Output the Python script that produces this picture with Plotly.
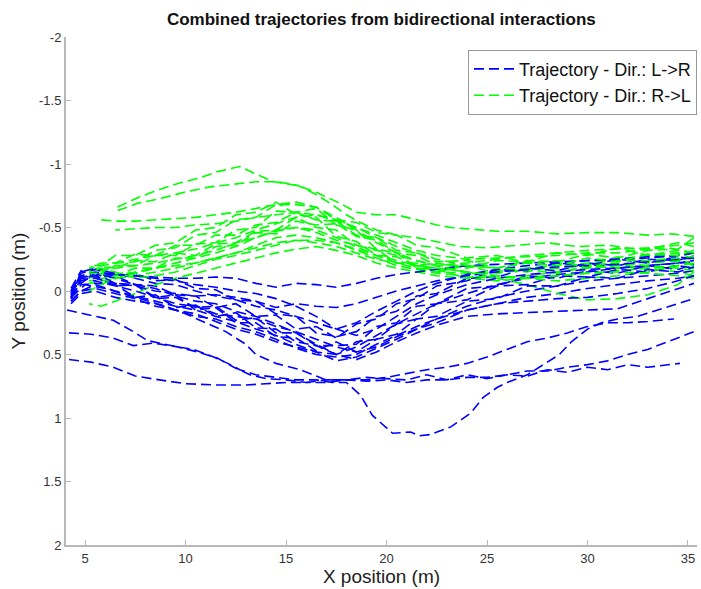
import plotly.graph_objects as go

# ---------------- data ----------------
# Shared x grid for the blue (L->R) bundle trajectories
XB = [4.3, 4.8, 5.5, 6.5, 7.5, 8.5, 9.5, 10.5, 11.5, 12.5, 13.5, 14.5, 15.5, 16.5, 17.5,
      18.5, 19.5, 20.5, 21.5, 22.5, 24, 25.5, 27, 28.5, 30, 31.5, 33, 34.5, 35.3]

B01 = [0.05, -0.15, -0.18, -0.13, -0.14, -0.08, -0.09, -0.02, -0.01, 0.07, 0.08, 0.18, 0.2, 0.33, 0.36, 0.32, 0.2, 0.16, 0.04, 0.02, -0.1, -0.11, -0.18, -0.16, -0.22, -0.2, -0.25, -0.24, -0.28]
B02 = [0.02, -0.1, -0.14, -0.1, -0.05, -0.02, 0.04, 0.08, 0.1, 0.16, 0.2, 0.26, 0.33, 0.42, 0.5, 0.44, 0.35, 0.26, 0.18, 0.1, 0.02, -0.05, -0.1, -0.13, -0.15, -0.18, -0.2, -0.22, -0.24]
B03 = [-0.02, -0.16, -0.11, -0.12, -0.05, -0.04, 0.03, 0.04, 0.13, 0.1, 0.2, 0.19, 0.3, 0.28, 0.37, 0.26, 0.22, 0.1, 0.06, -0.04, -0.08, -0.17, -0.16, -0.22, -0.2, -0.25, -0.22, -0.27, -0.25]
B04 = [0.08, 0.0, -0.05, 0.0, 0.04, 0.08, 0.12, 0.15, 0.2, 0.24, 0.3, 0.35, 0.42, 0.48, 0.55, 0.52, 0.45, 0.38, 0.3, 0.22, 0.12, 0.05, 0.0, -0.04, -0.08, -0.1, -0.12, -0.14, -0.16]
B05 = [0.05, -0.08, -0.12, -0.04, -0.05, 0.06, 0.05, 0.13, 0.12, 0.23, 0.21, 0.33, 0.33, 0.43, 0.43, 0.42, 0.28, 0.25, 0.12, 0.1, -0.02, -0.04, -0.12, -0.1, -0.16, -0.14, -0.2, -0.17, -0.21]
B06 = [0.1, 0.02, 0.0, 0.05, 0.08, 0.1, 0.15, 0.2, 0.22, 0.28, 0.32, 0.38, 0.45, 0.5, 0.52, 0.5, 0.42, 0.35, 0.28, 0.22, 0.15, 0.1, 0.05, 0.02, -0.02, -0.05, -0.08, -0.1, -0.12]
B07 = [0.0, -0.14, -0.17, -0.14, -0.1, -0.06, -0.05, 0.0, 0.04, 0.07, 0.12, 0.15, 0.2, 0.25, 0.3, 0.25, 0.16, 0.08, 0.0, -0.06, -0.13, -0.17, -0.2, -0.22, -0.24, -0.25, -0.27, -0.28, -0.3]
B08 = [0.06, -0.05, -0.06, -0.05, 0.05, 0.03, 0.13, 0.11, 0.2, 0.17, 0.29, 0.3, 0.4, 0.43, 0.5, 0.4, 0.38, 0.26, 0.22, 0.1, 0.07, -0.04, -0.05, -0.12, -0.11, -0.17, -0.15, -0.2, -0.18]
B09 = [0.03, -0.12, -0.15, -0.13, -0.12, -0.1, -0.08, -0.05, -0.03, 0.0, 0.02, 0.06, 0.12, 0.2, 0.3, 0.35, 0.3, 0.2, 0.1, 0.03, -0.05, -0.1, -0.13, -0.15, -0.17, -0.18, -0.2, -0.22, -0.23]
B10 = [0.06, -0.1, -0.12, -0.13, -0.12, -0.11, -0.1, -0.1, -0.11, -0.1, -0.06, -0.03, -0.06, -0.05, -0.03, -0.06, -0.1, -0.13, -0.15, -0.17, -0.2, -0.21, -0.22, -0.23, -0.24, -0.25, -0.26, -0.28, -0.3]
B11 = [0.0, -0.12, -0.1, -0.06, -0.04, 0.0, 0.02, 0.04, 0.03, 0.05, 0.08, 0.13, 0.1, 0.12, 0.13, 0.1, 0.05, 0.0, -0.04, -0.08, -0.12, -0.15, -0.17, -0.19, -0.2, -0.21, -0.23, -0.25, -0.26]
B12 = [0.04, -0.06, -0.14, -0.06, -0.05, 0.05, 0.03, 0.15, 0.13, 0.25, 0.25, 0.36, 0.37, 0.47, 0.4, 0.48, 0.38, 0.34, 0.22, 0.2, 0.08, 0.06, -0.04, -0.04, -0.11, -0.1, -0.17, -0.15, -0.19]
B13 = [0.08, 0.0, -0.02, 0.02, 0.06, 0.12, 0.15, 0.18, 0.24, 0.3, 0.34, 0.4, 0.44, 0.48, 0.5, 0.54, 0.48, 0.4, 0.33, 0.27, 0.2, 0.18, 0.17, 0.16, 0.15, 0.14, 0.06, -0.02, -0.06]
B14 = [0.02, -0.1, -0.08, -0.04, 0.0, 0.05, 0.1, 0.12, 0.18, 0.2, 0.22, 0.28, 0.32, 0.38, 0.44, 0.48, 0.44, 0.36, 0.3, 0.25, 0.15, 0.1, 0.08, 0.06, 0.05, 0.02, -0.02, -0.08, -0.12]

# Individual blue trajectories (lower ones)
L1_X = [4.2, 5.3, 6.4, 7.5, 8.7, 10, 11.5, 13, 14, 15, 16, 17, 18, 19, 20, 21, 22, 23, 24, 25, 26, 27, 28, 29, 30, 31, 32, 33, 34.6]
L1_Y = [0.54, 0.56, 0.6, 0.67, 0.7, 0.73, 0.74, 0.74, 0.73, 0.72, 0.72, 0.7, 0.7, 0.68, 0.69, 0.7, 0.66, 0.7, 0.66, 0.69, 0.66, 0.67, 0.62, 0.64, 0.6, 0.62, 0.58, 0.6, 0.57]
L2_X = [4.2, 5.3, 6.4, 7.4, 8.4, 9.6, 10.6, 11.6, 12.4, 13.2, 14, 15, 16, 17, 18, 19, 20, 21, 22, 23, 24, 25, 26, 27, 28, 29, 30, 31, 32, 33, 34.3]
L2_Y = [0.33, 0.34, 0.37, 0.43, 0.41, 0.44, 0.48, 0.53, 0.6, 0.66, 0.69, 0.7, 0.72, 0.72, 0.7, 0.7, 0.68, 0.65, 0.62, 0.6, 0.57, 0.52, 0.46, 0.4, 0.37, 0.33, 0.28, 0.25, 0.25, 0.24, 0.22]
L3_X = [4.1, 5.25, 6.4, 7.4, 8.1, 9.6, 10.4, 11.4, 12.1, 12.7, 13.5, 14.5, 15.5, 16.5, 17.3, 18, 18.7, 19.3, 20.3, 21.2, 21.6, 22.2, 23.2, 24.2, 24.8, 25.5, 26, 27, 28, 28.6, 29.2, 30, 30.7, 31.5, 32.5, 33.5, 34.5, 35.3]
L3_Y = [0.15, 0.19, 0.23, 0.32, 0.39, 0.44, 0.46, 0.52, 0.57, 0.62, 0.66, 0.68, 0.7, 0.7, 0.72, 0.72, 0.82, 0.98, 1.12, 1.11, 1.14, 1.13, 1.07, 0.96, 0.84, 0.76, 0.72, 0.66, 0.56, 0.5, 0.4, 0.3, 0.25, 0.22, 0.2, 0.15, 0.1, 0.06]
L4_X = [4.3, 5.0, 6.0, 7.5, 9, 10, 11, 12, 13, 13.5, 14.5, 15.7, 17, 18, 19, 20, 21, 22, 23, 24, 25, 26, 27, 28, 29, 30, 31, 32, 33, 34, 35.3]
L4_Y = [0.05, -0.05, -0.02, 0.05, 0.12, 0.18, 0.25, 0.32, 0.42, 0.5, 0.57, 0.62, 0.7, 0.7, 0.71, 0.7, 0.72, 0.7, 0.7, 0.68, 0.68, 0.66, 0.63, 0.63, 0.6, 0.58, 0.55, 0.5, 0.46, 0.4, 0.32]

# Shared x grid for the green (R->L) bundle trajectories
XG = [35.3, 34.5, 33, 31.5, 30, 28.5, 27, 25.5, 24, 22.5, 21.5, 20.5, 19.5, 18.5, 17.5,
      16.5, 15.5, 14.5, 13.5, 12.5, 11.5, 10.5, 9.5, 8.5, 7.5, 6.5, 5.8, 5.2]

G01 = [-0.42, -0.33, -0.32, -0.26, -0.29, -0.23, -0.24, -0.18, -0.2, -0.15, -0.22, -0.22, -0.33, -0.36, -0.48, -0.5, -0.58, -0.48, -0.47, -0.38, -0.37, -0.28, -0.3, -0.23, -0.24, -0.18, -0.19, -0.15]
G02 = [-0.3, -0.32, -0.28, -0.25, -0.22, -0.2, -0.18, -0.15, -0.14, -0.15, -0.18, -0.22, -0.28, -0.35, -0.42, -0.48, -0.5, -0.47, -0.42, -0.38, -0.32, -0.28, -0.25, -0.22, -0.2, -0.18, -0.16, -0.14]
G03 = [-0.2, -0.24, -0.22, -0.27, -0.2, -0.22, -0.15, -0.16, -0.1, -0.17, -0.18, -0.3, -0.33, -0.48, -0.52, -0.65, -0.62, -0.63, -0.5, -0.48, -0.38, -0.37, -0.28, -0.28, -0.2, -0.2, -0.13, -0.12]
G04 = [-0.35, -0.38, -0.33, -0.3, -0.3, -0.28, -0.27, -0.26, -0.25, -0.28, -0.32, -0.38, -0.44, -0.5, -0.56, -0.6, -0.58, -0.53, -0.48, -0.42, -0.38, -0.33, -0.3, -0.28, -0.25, -0.22, -0.2, -0.18]
G05 = [-0.12, -0.15, -0.18, -0.2, -0.18, -0.15, -0.12, -0.1, -0.12, -0.14, -0.17, -0.2, -0.26, -0.32, -0.38, -0.42, -0.44, -0.42, -0.36, -0.3, -0.26, -0.22, -0.2, -0.18, -0.15, -0.12, -0.1, -0.08]
G06 = [-0.25, -0.3, -0.28, -0.34, -0.28, -0.3, -0.23, -0.24, -0.18, -0.22, -0.2, -0.27, -0.28, -0.39, -0.43, -0.58, -0.6, -0.7, -0.62, -0.6, -0.5, -0.48, -0.38, -0.36, -0.28, -0.28, -0.2, -0.2]
G07 = [-0.15, -0.05, 0.03, 0.06, 0.07, 0.02, -0.05, -0.1, -0.15, -0.18, -0.2, -0.22, -0.25, -0.3, -0.35, -0.38, -0.4, -0.38, -0.34, -0.3, -0.26, -0.22, -0.18, -0.15, -0.12, -0.1, -0.08, -0.06]
G08 = [-0.18, -0.2, -0.18, -0.16, -0.14, -0.12, -0.1, -0.08, -0.1, -0.12, -0.15, -0.18, -0.22, -0.28, -0.32, -0.35, -0.33, -0.3, -0.26, -0.22, -0.18, -0.14, -0.1, -0.05, 0.02, 0.08, 0.12, 0.1]
G09 = [-0.28, -0.23, -0.24, -0.18, -0.2, -0.14, -0.17, -0.14, -0.2, -0.2, -0.28, -0.3, -0.4, -0.43, -0.53, -0.52, -0.55, -0.45, -0.46, -0.36, -0.35, -0.26, -0.26, -0.18, -0.18, -0.12, -0.14, -0.1]
G10 = [-0.38, -0.36, -0.34, -0.33, -0.32, -0.3, -0.28, -0.25, -0.22, -0.2, -0.24, -0.3, -0.38, -0.48, -0.58, -0.66, -0.7, -0.68, -0.65, -0.62, -0.6, -0.58, -0.57, -0.56, -0.55, -0.55, -0.56, None]
G11 = [-0.16, -0.18, -0.2, -0.22, -0.2, -0.18, -0.17, -0.18, -0.2, -0.25, -0.3, -0.35, -0.42, -0.5, -0.55, -0.6, -0.62, -0.6, -0.58, -0.55, -0.53, -0.52, -0.5, -0.5, -0.49, -0.48, None, None]
G12 = [-0.22, -0.2, -0.15, -0.12, -0.1, -0.08, -0.1, -0.12, -0.15, -0.18, -0.2, -0.24, -0.28, -0.33, -0.38, -0.4, -0.4, -0.36, -0.32, -0.28, -0.25, -0.2, -0.15, -0.12, -0.1, -0.15, -0.18, -0.15]
G13 = [-0.32, -0.28, -0.29, -0.23, -0.26, -0.2, -0.22, -0.18, -0.24, -0.23, -0.3, -0.32, -0.42, -0.44, -0.55, -0.56, -0.62, -0.54, -0.52, -0.44, -0.44, -0.36, -0.36, -0.28, -0.29, -0.22, -0.22, -0.18]
G14 = [-0.1, -0.12, -0.14, -0.15, -0.14, -0.12, -0.1, -0.12, -0.15, -0.2, -0.24, -0.28, -0.32, -0.36, -0.4, -0.46, -0.5, -0.48, -0.42, -0.35, -0.3, -0.26, -0.22, -0.18, -0.14, -0.1, -0.05, 0.0]
G15 = [-0.2, -0.26, -0.24, -0.24, -0.18, -0.24, -0.22, -0.28, -0.26, -0.34, -0.36, -0.44, -0.46, -0.54, -0.56, -0.66, -0.68, -0.68, -0.58, -0.56, -0.46, -0.44, -0.34, -0.32, -0.23, -0.22, -0.14, -0.14]

# Individual green trajectories (upper ones)
GA_X = [35.3, 34.2, 33, 31.5, 30, 28.5, 27, 25.5, 24, 23.2, 22.5, 21.5, 20.5, 19.5, 18.5, 17.7, 16.6, 15.6, 14.4, 13.5, 12.7, 11.6, 10.7, 9.7, 8.7, 7.7, 6.6]
GA_Y = [-0.43, -0.45, -0.44, -0.46, -0.46, -0.45, -0.47, -0.47, -0.49, -0.5, -0.52, -0.56, -0.6, -0.6, -0.62, -0.69, -0.77, -0.83, -0.86, -0.92, -0.98, -0.94, -0.89, -0.85, -0.8, -0.74, -0.66]
GB_X = [35.3, 34, 32.5, 31, 29.5, 28, 26.5, 25, 23.7, 22.5, 21.5, 20.5, 19.5, 18.7, 18, 17.3, 16.5, 15.6, 14.6, 13.5, 12.4, 11.2, 10, 8.8, 7.6, 6.4]
GB_Y = [-0.3, -0.34, -0.33, -0.36, -0.35, -0.38, -0.36, -0.34, -0.35, -0.39, -0.42, -0.44, -0.48, -0.54, -0.6, -0.68, -0.76, -0.83, -0.86, -0.86, -0.84, -0.82, -0.78, -0.73, -0.69, -0.62]

BLUE_BUNDLE = [B01, B02, B03, B04, B05, B06, B07, B08, B09, B10, B11, B12, B13, B14]
BLUE_SINGLE = [(L1_X, L1_Y), (L2_X, L2_Y), (L3_X, L3_Y), (L4_X, L4_Y)]
GREEN_BUNDLE = [G01, G02, G03, G04, G05, G06, G07, G08, G09, G10, G11, G12, G13, G14, G15]
GREEN_SINGLE = [(GA_X, GA_Y), (GB_X, GB_Y)]

X_TICKS = [5, 10, 15, 20, 25, 30, 35]
Y_TICKS = [-2, -1.5, -1, -0.5, 0, 0.5, 1, 1.5, 2]
Y_TICK_TEXT = ["-2", "-1.5", "-1", "-0.5", "0", "0.5", "1", "1.5", "2"]

BLUE_NAME = "Trajectory - Dir.: L->R"
GREEN_NAME = "Trajectory - Dir.: R->L"

# ---------------- figure ----------------
BLUE = "#0000ff"
GREEN = "#00ff00"
DASH = "10px,5px"
W = 1.6

blue_traces = [(XB, y) for y in BLUE_BUNDLE] + BLUE_SINGLE
green_traces = [(XG, y) for y in GREEN_BUNDLE] + GREEN_SINGLE

fig = go.Figure()


def add(xs, ys, color, name, group, show, rank):
    fig.add_trace(go.Scatter(
        x=xs, y=ys, mode="lines", name=name, legendgroup=group,
        showlegend=show, legendrank=rank, connectgaps=False,
        line=dict(color=color, width=W, dash=DASH),
        hoverinfo="skip"))


n = max(len(blue_traces), len(green_traces))
shown_b = shown_g = False
for i in range(n):
    if i < len(green_traces):
        add(*green_traces[i], GREEN, GREEN_NAME, "g", not shown_g, 2)
        shown_g = True
    if i < len(blue_traces):
        add(*blue_traces[i], BLUE, BLUE_NAME, "b", not shown_b, 1)
        shown_b = True

FONT = "Liberation Sans, Arial, sans-serif"
axis_common = dict(
    showline=True, linecolor="#b8b8b8", linewidth=2,
    ticks="inside", ticklen=5, tickcolor="#b8b8b8", tickwidth=1,
    showgrid=False, zeroline=False, mirror=False,
    tickfont=dict(family=FONT, size=13, color="#333333"),
)

fig.update_layout(
    width=701, height=589,
    margin=dict(l=66, r=4, t=37, b=44),
    paper_bgcolor="white", plot_bgcolor="white",
    font=dict(family=FONT, color="#111111"),
    title=dict(text="<b>Combined trajectories from bidirectional interactions</b>",
               x=0.544, xanchor="center", y=0.968, yanchor="middle",
               font=dict(size=17, color="#111111")),
    xaxis=dict(range=[4.05, 35.45], tickvals=X_TICKS,
               title=dict(text="X position (m)", font=dict(size=19, color="#222222"), standoff=2),
               **axis_common),
    yaxis=dict(range=[2, -2], tickvals=Y_TICKS, ticktext=Y_TICK_TEXT,
               title=dict(text="Y position (m)", font=dict(size=19, color="#222222"), standoff=8),
               **axis_common),
    legend=dict(x=1.0, xanchor="right", y=0.975, yanchor="top",
                bgcolor="white", bordercolor="#999999", borderwidth=1,
                font=dict(size=18, color="#111111"),
                tracegroupgap=0, itemwidth=40),
    showlegend=True,
)

fig.write_html("out.html")
